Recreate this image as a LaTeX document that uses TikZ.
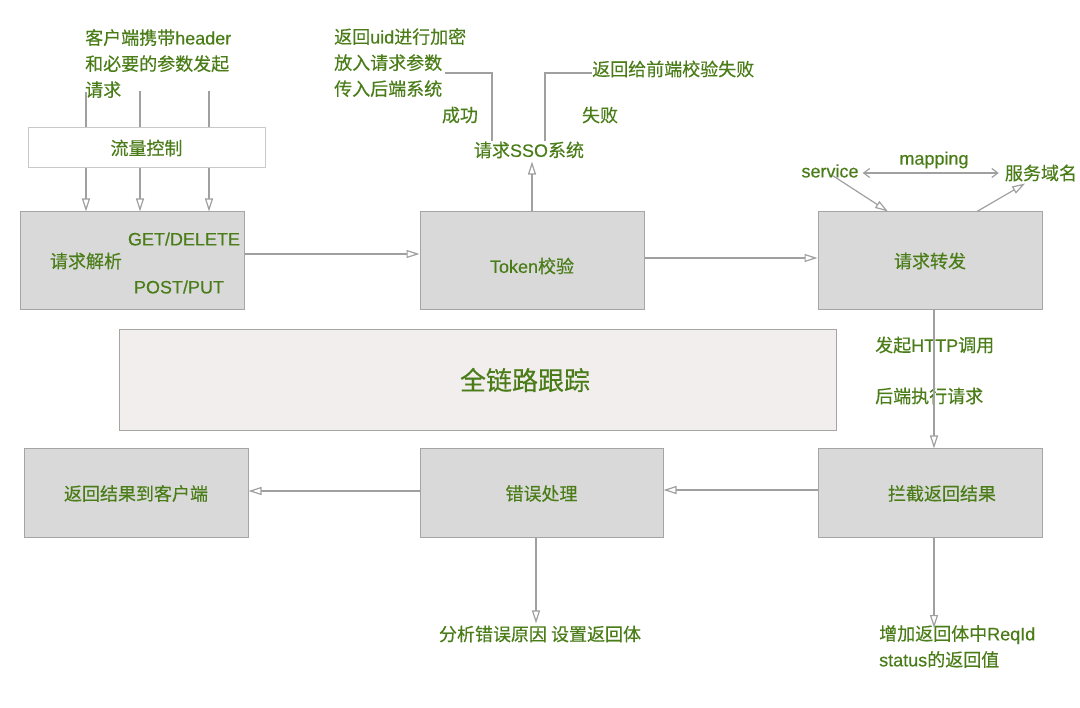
\documentclass[tikz,border=0pt]{standalone}
\usepackage{fontspec}
\setmainfont{Noto Sans CJK SC}[FakeBold=0.35]
\newfontfamily\lat{Liberation Sans}[FakeBold=0.35]
\usetikzlibrary{arrows.meta}

\begin{document}
\begin{tikzpicture}[x=1pt, y=-1pt,
  box/.style={draw=boxline, fill=boxgray, line width=1pt, minimum width=224pt,
    text=txtgreen, font=\fontsize{18}{20}\selectfont, inner sep=0pt},
  lbl/.style={text=txtgreen, font=\fontsize{18}{26}\selectfont, inner sep=0pt, align=left},
  arr/.style={draw=arrgray, line width=1.2pt, -{Triangle[open, length=13pt, width=8pt]}},
  plain/.style={draw=arrgray, line width=1.2pt}]
  \definecolor{txtgreen}{RGB}{74,124,24}
  \definecolor{boxgray}{RGB}{217,217,217}
  \definecolor{boxline}{RGB}{165,165,165}
  \definecolor{arrgray}{RGB}{160,160,160}
  \definecolor{tracefill}{RGB}{243,238,238}

  \useasboundingbox (0,0) rectangle (1080,708);

  % top row
  \node[box, minimum height=98pt] (parse) at (132,261) {};
  \node[lbl] (parsetxt) at (86,261) {请求解析};
  \node[lbl] (getdel) at (184,239) {\lat GET/DELETE};
  \node[lbl] (postput) at (179,287) {\lat POST/PUT};

  \node[box, minimum height=98pt] (token) at (532,261) {};
  \node[lbl] (tokentxt) at (532,266) {{\lat Token}校验};
  \node[box, minimum height=98pt] (fwd) at (930,261) {请求转发};

  % client request
  \node[lbl, anchor=north west] (client) at (85,29) {客户端携带{\lat header}\\和必要的参数发起\\请求};
  \coordinate (in1) at (86,92);
  \coordinate (in2) at (140,91);
  \coordinate (in3) at (209,91);
  \foreach \c in {in1,in2,in3}
    \draw[arr] (\c) -- (\c |- parse.north);
  \node[draw=boxline!60, fill=white, line width=1pt, minimum width=237pt, minimum height=40pt,
    text=txtgreen, font=\fontsize{18}{20}\selectfont] (flow) at (146.5,148) {流量控制};

  % sso
  \node[lbl] (sso) at (529,150) {请求{\lat SSO}系统};
  \node[lbl, anchor=north west] (enc) at (334,28) {返回{\lat uid}进行加密\\放入请求参数\\传入后端系统};
  \node[lbl] (ok) at (460,115) {成功};
  \node[lbl] (bad) at (600,115) {失败};
  \node[lbl, anchor=west] (failtxt) at (592,69) {返回给前端校验失败};
  \coordinate (okend) at (445,73);
  \coordinate (badend) at (592,73);
  \draw[arr] (token.north) -- ([yshift=-3pt]token.north |- sso.south);
  \draw[plain] ([xshift=-37pt]sso.north) |- (okend);
  \draw[plain] ([xshift=16pt]sso.north) |- (badend);

  % mapping
  \node[lbl] (service) at (830,171) {\lat service};
  \node[lbl] (mapping) at (934,160) {\lat mapping};
  \node[lbl] (domain) at (1041,173) {服务域名};
  \draw[draw=arrgray, line width=1.2pt, {Straight Barb[length=6pt, width=9pt]}-{Straight Barb[length=6pt, width=9pt]}]
    ([xshift=4pt, yshift=-2pt]service.east) -- ([xshift=-6pt, yshift=-2pt]service.east -| domain.west);
  \draw[arr] ([xshift=3pt, yshift=2pt]service.south) -- ([xshift=-42pt]fwd.north);
  \draw[arr] ([xshift=47pt]fwd.north) -- ([xshift=-16pt, yshift=-2pt]domain.south);

  \draw[arr] ([yshift=7pt]parse.east) -- ([yshift=7pt]token.west);
  \draw[arr] ([yshift=3pt]token.east) -- ([yshift=3pt]fwd.west);

  % trace
  \node[draw=boxline, fill=tracefill, line width=1pt, minimum width=717pt, minimum height=101pt] (trace) at (477.5,380.5) {};
  \node[text=txtgreen, font=\fontsize{26}{30}\selectfont] (tracetxt) at (525,380) {全链路跟踪};

  % bottom row
  \node[box, minimum height=89pt] (back) at (136,493.5) {返回结果到客户端};
  \node[box, minimum height=89pt, minimum width=243pt] (err) at (541.5,493.5) {错误处理};
  \node[box, minimum height=89pt] (catch) at (930,493.5) {\hspace*{24pt}拦截返回结果};

  \node[lbl, anchor=west] (http) at (875,345) {发起{\lat HTTP}调用};
  \node[lbl, anchor=west] (exec) at (875,396) {后端执行请求};
  \draw[arr] ([xshift=4pt]fwd.south) -- ([xshift=4pt]catch.north);

  \draw[arr] ([yshift=3.5pt]catch.west) -- ([yshift=3.5pt]err.east);
  \draw[arr] ([yshift=2.5pt]err.west) -- ([yshift=2.5pt]back.east);

  \node[lbl] (cause) at (540,634) {分析错误原因 设置返回体};
  \draw[arr] ([xshift=-5.5pt]err.south) -- ([xshift=-4pt, yshift=2pt]cause.north);

  \node[lbl, anchor=north west] (reqid) at (879,625) {增加返回体中{\lat ReqId}\\{\lat status}的返回值};
  \coordinate (reqtip) at (934,628);
  \draw[arr] ([xshift=4pt]catch.south) -- (reqtip);

\end{tikzpicture}
\end{document}
